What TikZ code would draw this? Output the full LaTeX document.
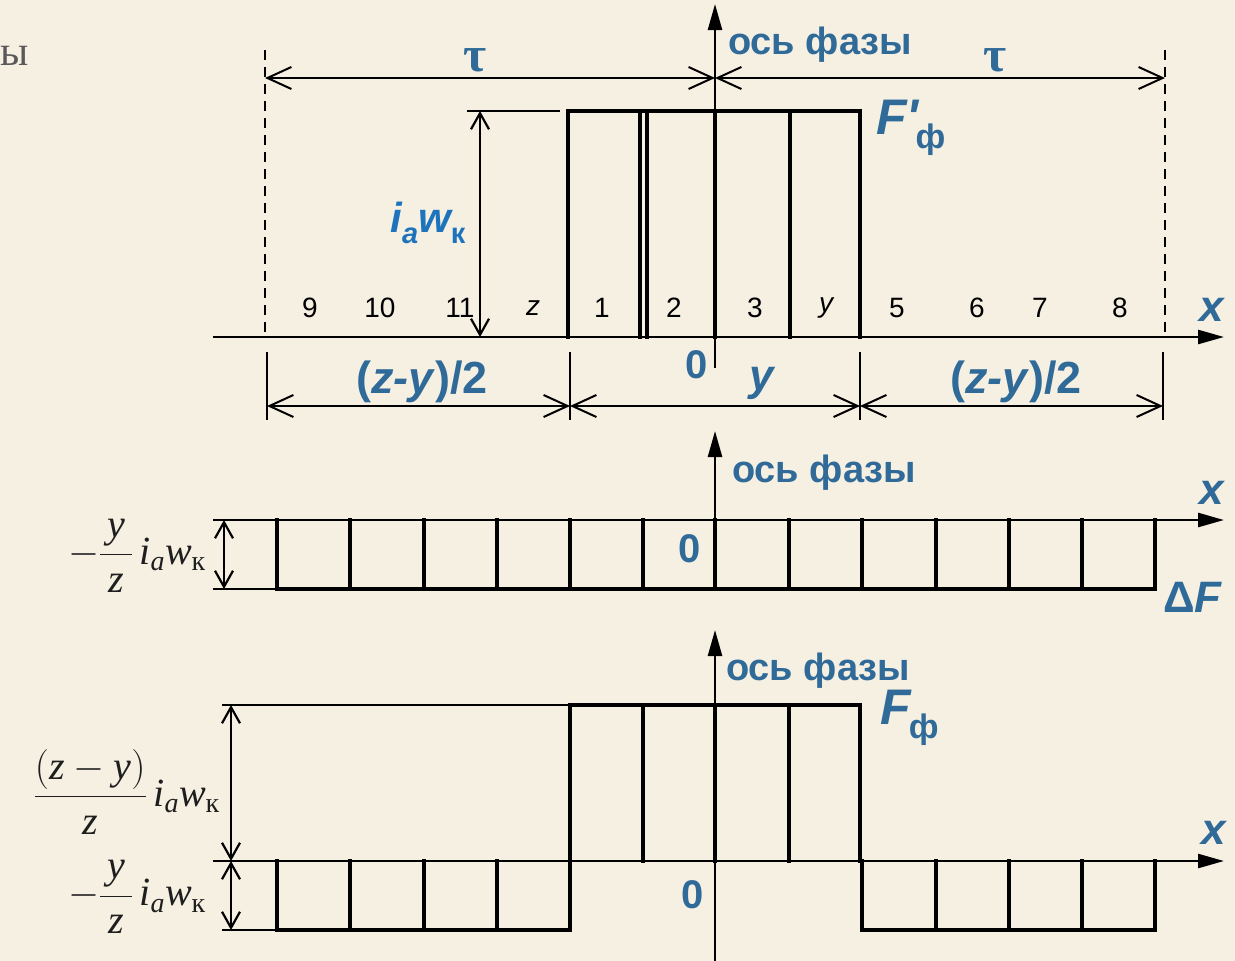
\documentclass[tikz,border=0pt]{standalone}
\usepackage{fix-cm}
\usepackage{fontspec}
\usepackage{amsmath}
\setmainfont{Liberation Serif}
\newfontfamily\ar{Liberation Sans}
\usetikzlibrary{arrows.meta}
\definecolor{bg}{HTML}{F6F0E3}
\definecolor{lblue}{HTML}{2F6A98}
\definecolor{bblue}{HTML}{1E74BC}
\definecolor{txt}{HTML}{1E1E1E}
\newcommand{\fs}[1]{\fontsize{#1}{#1}\selectfont}
\tikzset{
  thickln/.style={line width=4.5pt, line cap=rect, line join=miter},
  axisln/.style={line width=2.5pt, -{Triangle[length=26pt,width=14pt]}},
  thinln/.style={line width=2pt},
  dashln/.style={line width=2pt, dash pattern=on 10pt off 7pt},
  dimarr/.style={line width=2pt, arrows={Straight Barb[length=24pt,width=22pt]-Straight Barb[length=24pt,width=22pt]}},
  vdimarr/.style={line width=2.2pt, arrows={Straight Barb[length=16pt,width=18pt]-Straight Barb[length=16pt,width=18pt]}},
  bl/.style={text=lblue, font=\ar\bfseries\fs{38}, inner sep=0pt},
  num/.style={text=black, font=\ar\fs{28}, inner sep=0pt},
  frm/.style={text=txt, font=\fs{40}, inner sep=0pt},
}
\begin{document}
\begin{tikzpicture}[x=1pt,y=-1pt]
\useasboundingbox (0,0) rectangle (1235,961);
\fill[bg] (0,0) rectangle (1235,961);
\node[text=black!65, font=\fs{42}, inner sep=0pt, anchor=west] (yy) at (0,56) {ы};

% ---------- top diagram ----------
\coordinate (pa1) at (715,368); \coordinate (pa2) at (715,4);
\draw[axisln] (pa1) -- (pa2);
\coordinate (xa1) at (213,337); \coordinate (xa2) at (1224,337);
\draw[axisln] (xa1) -- (xa2);
\coordinate (d1a) at (265,50); \coordinate (d1b) at (265,337);
\coordinate (d2a) at (1165,50); \coordinate (d2b) at (1165,337);
\draw[dashln] (d1a) -- (d1b);
\draw[dashln] (d2a) -- (d2b);
\coordinate (t1) at (265,78); \coordinate (t2) at (715,78); \coordinate (t3) at (1165,78);
\draw[dimarr] (t1) -- (t2);
\draw[dimarr] (t2) -- (t3);
\node[text=lblue, font=\bfseries\fs{50}, inner sep=0pt] (tau1) at (475,60) {τ};
\node[text=lblue, font=\bfseries\fs{50}, inner sep=0pt] (tau2) at (995,60) {τ};
\node[bl] (os1) at (820,45) {ось фазы};
% rectangle F'
\coordinate (r1) at (568,337); \coordinate (r2) at (568,111);
\coordinate (r3) at (860,111); \coordinate (r4) at (860,337);
\draw[thickln] (r1) -- (r2) -- (r3) -- (r4);
\foreach \xx/\nm in {640/a,647/b,715/c,790/d}{
  \coordinate (v\nm1) at (\xx,111); \coordinate (v\nm2) at (\xx,337);
  \draw[thickln] (v\nm1) -- (v\nm2);
}
\coordinate (e1) at (467,111); \coordinate (e2) at (560,111);
\draw[thinln] (e1) -- (e2);
\coordinate (ia1) at (480,111); \coordinate (ia2) at (480,337);
\draw[vdimarr] (ia1) -- (ia2);
\node[text=bblue, font=\ar\bfseries\itshape\fs{42}, inner sep=0pt] (iaw) at (428,223)
  {i\raisebox{-11pt}{\fs{29}a}w\raisebox{-11pt}{\upshape\fs{29}к}};
\node[text=lblue, font=\ar\bfseries\itshape\fs{50}, inner sep=0pt, anchor=west] (Fp) at (876,128)
  {F'\hspace{-3pt}\raisebox{-14pt}{\upshape\fs{34}ф}};
% numbers
\node[num] (n9) at (310,308) {9};
\node[num] (n10) at (380,308) {10};
\node[num] (n11) at (460,308) {11};
\node[num, font=\ar\itshape\fs{28}] (nz) at (533,308) {z};
\node[num] (n1) at (602,308) {1};
\node[num] (n2) at (674,308) {2};
\node[num] (n3) at (755,308) {3};
\node[num, font=\ar\itshape\fs{28}] (ny) at (826,308) {y};
\node[num] (n5) at (897,308) {5};
\node[num] (n6) at (977,308) {6};
\node[num] (n7) at (1040,308) {7};
\node[num] (n8) at (1120,308) {8};
\node[bl, font=\ar\bfseries\itshape\fs{44}] (x1) at (1212,310) {x};
% lower dims
\foreach \xx/\nm in {267/a,570/b,860/c,1163/d}{
  \coordinate (k\nm1) at (\xx,352); \coordinate (k\nm2) at (\xx,420);
  \draw[thinln] (k\nm1) -- (k\nm2);
  \coordinate (m\nm) at (\xx,406);
}
\draw[dimarr] (ma) -- (mb);
\draw[dimarr] (mb) -- (mc);
\draw[dimarr] (mc) -- (md);
\node[bl, font=\ar\bfseries\fs{45}] (zy1) at (422,382) {(\textit{z-y})/2};
\node[bl, font=\ar\bfseries\fs{45}] (zy2) at (1016,382) {(\textit{z-y})/2};
\node[bl, font=\ar\bfseries\itshape\fs{44}] (yl) at (762,383) {y};
\node[bl, font=\ar\bfseries\fs{40}] (z0a) at (697,365) {0};

% ---------- middle diagram ----------
\coordinate (pb1) at (715,520); \coordinate (pb2) at (715,431);
\draw[axisln] (pb1) -- (pb2);
\coordinate (xb1) at (213,520); \coordinate (xb2) at (1224,520);
\draw[axisln] (xb1) -- (xb2);
\node[bl] (os2) at (824,473) {ось фазы};
\node[bl, font=\ar\bfseries\itshape\fs{44}] (x2) at (1212,493) {x};
\coordinate (bb0) at (213,589); \coordinate (bb1) at (277,589); \coordinate (bb2) at (1155,589);
\draw[line width=2.5pt] (bb0) -- (bb1);
\draw[thickln] (bb1) -- (bb2);
\foreach \xx [count=\i] in {277,350,424,497,570,643,715,789,862,936,1009,1082,1155}{
  \coordinate (w\i a) at (\xx,520); \coordinate (w\i b) at (\xx,589);
  \draw[thickln] (w\i a) -- (w\i b);
}
\coordinate (mda) at (224,520); \coordinate (mdb) at (224,589);
\draw[vdimarr] (mda) -- (mdb);
\node[bl, font=\ar\bfseries\fs{40}] (z0b) at (690,549) {0};
\node[bl, font=\ar\bfseries\fs{44}] (dF) at (1193,597) {Δ\textit{F}};
\node[frm, anchor=east] (f1) at (206,556) {$\displaystyle -\frac{\,\textit{y}\,}{\,\textit{z}\,}\,\textit{i}_{\textit{a}}\textit{w}_{\text{к}}$};

% ---------- bottom diagram ----------
\coordinate (pc1) at (715,961); \coordinate (pc2) at (715,630);
\draw[axisln] (pc1) -- (pc2);
\coordinate (xc1) at (213,861); \coordinate (xc2) at (1224,861);
\draw[axisln] (xc1) -- (xc2);
\node[bl] (os3) at (818,671) {ось фазы};
\node[bl, font=\ar\bfseries\itshape\fs{44}] (x3) at (1214,833) {x};
\coordinate (g1) at (222,705); \coordinate (g2) at (568,705);
\draw[thinln] (g1) -- (g2);
\coordinate (s1) at (570,930); \coordinate (s2) at (570,705);
\coordinate (s3) at (860,705); \coordinate (s4) at (860,861);
\draw[thickln] (s1) -- (s2) -- (s3) -- (s4);
\foreach \xx/\nm in {643/a,715/b,789/c}{
  \coordinate (u\nm1) at (\xx,705); \coordinate (u\nm2) at (\xx,861);
  \draw[thickln] (u\nm1) -- (u\nm2);
}
\coordinate (lb0) at (222,930); \coordinate (lb1) at (277,930);
\draw[thinln] (lb0) -- (lb1);
\coordinate (lq1) at (277,861);
\draw[thickln] (lq1) -- (lb1) -- (s1);
\foreach \xx/\nm in {350/a,424/b,497/c}{
  \coordinate (lv\nm1) at (\xx,861); \coordinate (lv\nm2) at (\xx,930);
  \draw[thickln] (lv\nm1) -- (lv\nm2);
}
\coordinate (rq1) at (862,861); \coordinate (rq2) at (862,930);
\coordinate (rq3) at (1155,930); \coordinate (rq4) at (1155,861);
\draw[thickln] (rq1) -- (rq2) -- (rq3) -- (rq4);
\foreach \xx/\nm in {936/a,1009/b,1082/c}{
  \coordinate (rv\nm1) at (\xx,861); \coordinate (rv\nm2) at (\xx,930);
  \draw[thickln] (rv\nm1) -- (rv\nm2);
}
\coordinate (bd1) at (231,705); \coordinate (bd2) at (231,861); \coordinate (bd3) at (231,930);
\draw[vdimarr] (bd1) -- (bd2);
\draw[vdimarr] (bd2) -- (bd3);
\node[text=lblue, font=\ar\bfseries\itshape\fs{50}, inner sep=0pt, anchor=west] (Ff) at (880,718)
  {F\hspace{-2pt}\raisebox{-14pt}{\upshape\fs{34}ф}};
\node[bl, font=\ar\bfseries\fs{40}] (z0c) at (693,895) {0};
\node[frm, anchor=east] (f2) at (220,792) {$\displaystyle \frac{(\textit{z}-\textit{y})}{\textit{z}}\,\textit{i}_{\textit{a}}\textit{w}_{\text{к}}$};
\node[frm, anchor=east] (f3) at (206,897) {$\displaystyle -\frac{\,\textit{y}\,}{\,\textit{z}\,}\,\textit{i}_{\textit{a}}\textit{w}_{\text{к}}$};
\end{tikzpicture}
\end{document}
